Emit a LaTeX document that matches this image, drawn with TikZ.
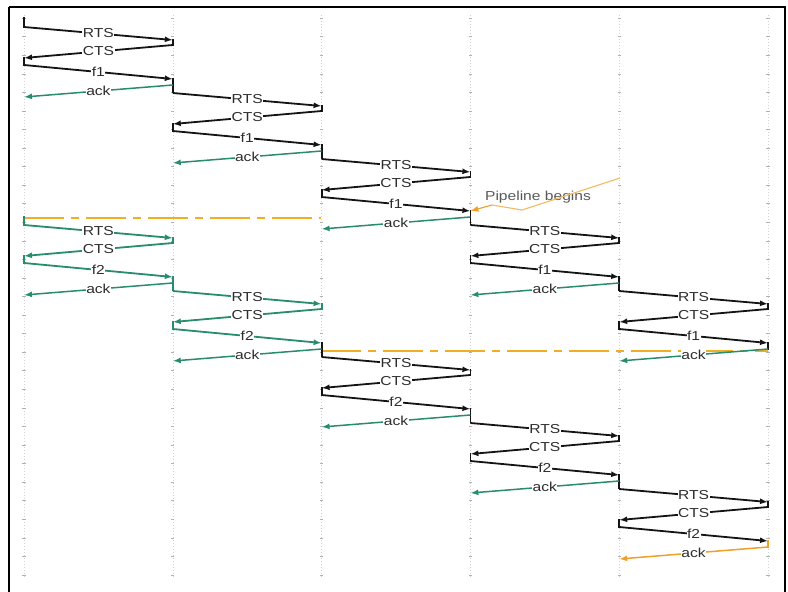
\documentclass[tikz,border=0pt]{standalone}
\usepackage{fontspec}
\setmainfont{Liberation Sans}
\usetikzlibrary{arrows.meta}
\definecolor{ackgreen}{RGB}{40,140,110}
\definecolor{pipeorange}{RGB}{240,160,40}
\definecolor{calloutorange}{RGB}{245,185,100}
\definecolor{lblgray}{RGB}{45,45,45}
\definecolor{lineblack}{RGB}{20,20,20}
\newcommand\lt[1]{\scalebox{1.2}[1]{#1}}
% #1 id, #2 left column index, #3 y0, #4 main colour, #5 frame label,
% #6 ack colour, #7 end offset of the trailing vertical, #8 trailing vertical colour
\newcommand\seqblock[8]{%
  \pgfmathsetmacro\xl{24+148.8*#2}%
  \pgfmathsetmacro\xr{24+148.8*(#2+1)}%
  \coordinate (#1a) at (\xl,#3);
  \coordinate (#1b) at (\xr,#3+13);
  \coordinate (#1c) at (\xr,#3+18);
  \coordinate (#1d) at (\xl,#3+31);
  \coordinate (#1e) at (\xl,#3+38);
  \coordinate (#1f) at (\xr,#3+52);
  \coordinate (#1g) at (\xr,#3+58);
  \coordinate (#1h) at (\xl,#3+70);
  \coordinate (#1i) at (\xr,#3+#7);
  \draw[link,#4] (#1b) -- (#1c);
  \draw[link,#4] (#1d) -- (#1e);
  \draw[link,#8] (#1f) -- (#1i);
  \draw[msg,#4] (#1a) -- node[lbl] (#1rts) {\lt{RTS}} (#1b);
  \draw[msg,#4] (#1c) -- node[lbl] (#1cts) {\lt{CTS}} (#1d);
  \draw[msg,#4] (#1e) -- node[lbl] (#1dat) {\lt{#5}} (#1f);
  \draw[ackmsg,#6] (#1g) -- node[lbl] (#1ack) {\lt{ack}} (#1h);
}
\begin{document}
\begin{tikzpicture}[x=1pt,y=-1pt,
  msg/.style={line width=1.8pt,-{Latex[length=8pt,width=6pt]}},
  ackmsg/.style={line width=1.5pt,-{Latex[length=8pt,width=6pt]}},
  link/.style={line width=1.8pt,line cap=rect},
  lbl/.style={fill=white,inner sep=0.5pt,text=lblgray,font=\fontsize{13}{13}\selectfont},
  lifeline/.style={gray!35,line width=0.6pt,dash pattern=on 1pt off 2pt},
  tick/.style={gray!60,line width=0.9pt},
  pipe/.style={pipeorange!85!yellow,line width=1.6pt,dash pattern=on 40pt off 7pt on 8pt off 7pt},
  callout/.style={calloutorange,line width=1.1pt},
  frameline/.style={black,line width=1.5pt}]
\useasboundingbox (0,0) rectangle (788,592);
% frame
\draw[frameline] (785,600) -- (785,7) -- (9,7);
\draw[black,line width=2.6pt] (9,600) -- (9,7);
% lifelines
\foreach \i in {0,...,5}{
  \pgfmathsetmacro\lx{24+148.8*\i}
  \coordinate (top\i) at (\lx,15);
  \coordinate (bot\i) at (\lx,577);
  \draw[lifeline] (top\i) -- (bot\i);
  \foreach \j in {0,...,30}{
    \pgfmathsetmacro\ty{18.3+18.56*\j}
    \draw[tick] (\lx-1.6,\ty) -- (\lx+1.6,\ty);
  }
}
% pipeline separators
\coordinate (p1a) at (24,218); \coordinate (p1b) at (321,218);
\coordinate (p2a) at (321,351); \coordinate (p2b) at (768,351);
\draw[pipe] (p1a) -- (p1b);
\draw[pipe] (p2a) -- (p2b);
% start ticks
\coordinate (s1a) at (24,18); \coordinate (s1b) at (24,27);
\coordinate (s2a) at (24,217); \coordinate (s2b) at (24,225);
\draw[link,lineblack] (s1a) -- (s1b);
\draw[link,ackgreen] (s2a) -- (s2b);
% frame f1
\seqblock{A}{0}{27}{lineblack}{f1}{ackgreen}{65}{lineblack}
\seqblock{B}{1}{93}{lineblack}{f1}{ackgreen}{65}{lineblack}
\seqblock{C}{2}{159}{lineblack}{f1}{ackgreen}{65}{lineblack}
\seqblock{D}{3}{225}{lineblack}{f1}{ackgreen}{65}{lineblack}
\seqblock{E}{4}{291}{lineblack}{f1}{ackgreen}{58}{lineblack}
% frame f2
\seqblock{F}{0}{225}{ackgreen}{f2}{ackgreen}{65}{ackgreen}
\seqblock{G}{1}{291}{ackgreen}{f2}{ackgreen}{65}{lineblack}
\seqblock{H}{2}{357}{lineblack}{f2}{ackgreen}{65}{lineblack}
\seqblock{I}{3}{423}{lineblack}{f2}{ackgreen}{65}{lineblack}
\seqblock{J}{4}{489}{lineblack}{f2}{pipeorange}{58}{pipeorange}
% callout
\node[text=gray!70!black,font=\fontsize{13}{13}\selectfont,inner sep=0pt] (pb) at (538,197) {\lt{Pipeline begins}};
\coordinate (c1) at (620,178);
\coordinate (c2) at (522,210);
\coordinate (c3) at (492,205);
\draw[callout] (c1) -- (c2) -- (c3);
\draw[callout,-{Latex[length=8pt,width=6pt]},pipeorange] (c3) -- (Cf);
\end{tikzpicture}
\end{document}
